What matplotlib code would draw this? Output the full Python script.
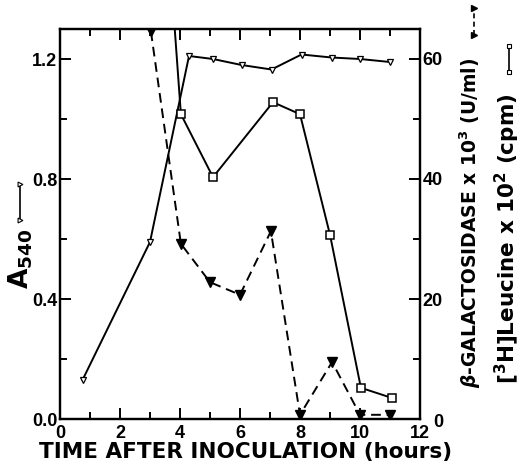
import matplotlib
matplotlib.use("Agg")
import matplotlib.pyplot as plt
from matplotlib.lines import Line2D
from matplotlib.ticker import MultipleLocator

plt.rcParams['font.family'] = ['Liberation Sans', 'DejaVu Sans']
plt.rcParams['font.weight'] = 'bold'
plt.rcParams['mathtext.fontset'] = 'dejavusans'

# A540 (open triangles, left axis)
a540_t = [0.75, 3.0, 4.3, 5.1, 6.05, 7.05, 8.05, 9.05, 10.0, 11.0]
a540_v = [0.13, 0.59, 1.21, 1.20, 1.18, 1.165, 1.215, 1.205, 1.20, 1.19]

# [3H]Leucine x 10^2 cpm (open squares, right axis)
leu_t = [3.0, 4.03, 5.1, 7.1, 8.0, 9.0, 10.03, 11.07]
leu_v = [122.0, 50.8, 40.3, 52.8, 50.8, 30.7, 5.2, 3.5]

# beta-galactosidase x 10^3 U/ml (filled triangles, dashed, right axis)
gal_t = [3.03, 4.03, 5.0, 6.0, 7.03, 8.0, 9.07, 10.0, 11.0]
gal_v = [64.6, 29.2, 22.8, 20.7, 31.3, 0.7, 9.5, 0.7, 0.7]

x_ticks = [0, 2, 4, 6, 8, 10, 12]
left_ticks = [0.0, 0.4, 0.8, 1.2]
right_ticks = [20, 40, 60]

W, H = 524, 463
fig = plt.figure(figsize=(W / 100, H / 100), dpi=100)
ax = fig.add_axes([60 / W, 1 - 419 / H, 360 / W, 390 / H])
ax2 = ax.twinx()

ax.set_xlim(0, 12)
ax.set_ylim(0, 1.3)
ax2.set_ylim(0, 65)

k = 'black'
ax.plot(a540_t, a540_v, '-', color=k, lw=1.4, marker='v', ms=5,
        mfc='white', mec=k, mew=0.9)
ax2.plot(leu_t, leu_v, '-', color=k, lw=1.4, marker='s', ms=6,
         mfc='white', mec=k, mew=1.1)
ax2.plot(gal_t, gal_v, '--', color=k, lw=1.4, marker='v', ms=6.5,
         mfc=k, mec=k, dashes=(5, 3))

for sp in ax.spines.values():
    sp.set_linewidth(1.6)
for sp in ax2.spines.values():
    sp.set_linewidth(1.6)

ax.xaxis.set_minor_locator(MultipleLocator(1))
ax.yaxis.set_minor_locator(MultipleLocator(0.2))
ax.tick_params(axis='both', which='both', direction='in', top=True,
               width=1.4, labelsize=13)
ax.tick_params(which='major', length=8)
ax.tick_params(which='minor', length=5)
ax.set_xticks(x_ticks)
ax.set_xticklabels([str(v) for v in x_ticks])
ax.set_yticks(left_ticks)
ax.set_yticklabels(['%.1f' % v for v in left_ticks])
ax.tick_params(axis='x', pad=4)
ax.tick_params(axis='y', pad=2)

ax2.set_yticks(right_ticks)
ax2.set_yticklabels([str(v) for v in right_ticks])
ax2.yaxis.set_minor_locator(MultipleLocator(10))
ax2.tick_params(axis='y', which='both', direction='in', width=1.4,
                labelsize=13, pad=2)
ax2.tick_params(which='major', length=8)
ax2.tick_params(which='minor', length=5)
ax2.text(12.43, -0.6, '0', fontsize=13, fontweight='bold', ha='left',
         va='center', transform=ax2.transData, clip_on=False)

lab = dict(family=['DejaVu Sans'], fontweight='bold')
fig.text(246 / W, 1 - 452 / H, 'TIME AFTER INOCULATION (hours)',
         fontsize=15.5, ha='center', va='center', **lab)

# left label
fig.text(21 / W, 1 - 289 / H, 'A$_{\\mathbf{540}}$', fontsize=19,
         rotation=90, ha='left', va='center', rotation_mode='anchor', **lab)
fig.add_artist(Line2D([20 / W, 20 / W], [1 - 220 / H, 1 - 184 / H],
                      transform=fig.transFigure, color=k, lw=1.2))
fig.add_artist(Line2D([20 / W, 20 / W], [1 - 220 / H, 1 - 184 / H],
                      transform=fig.transFigure, color=k, lw=0, marker='>',
                      ms=3.5, mfc='white', mec=k, mew=0.8))

# right labels
fig.text(470 / W, 1 - 388 / H,
         '$\\mathit{\\beta}$-GALACTOSIDASE x 10$^{\\mathbf{3}}$ (U/ml)',
         fontsize=13.5, rotation=90, ha='left', va='center',
         rotation_mode='anchor', **lab)
fig.add_artist(Line2D([474 / W, 474 / W], [1 - 35 / H, 1 - 8 / H],
                      transform=fig.transFigure, color=k, lw=1.2,
                      dashes=(3, 2), marker='>', ms=4, mfc=k, mec=k))
fig.text(507 / W, 1 - 384 / H,
         '[$^{\\mathbf{3}}$H]Leucine x 10$^{\\mathbf{2}}$ (cpm)',
         fontsize=15.5, rotation=90, ha='left', va='center',
         rotation_mode='anchor', **lab)
fig.add_artist(Line2D([509 / W, 509 / W], [1 - 72 / H, 1 - 46 / H],
                      transform=fig.transFigure, color=k, lw=1.2,
                      marker='s', ms=3.5, mfc='white', mec=k, mew=0.8))

fig.savefig('out.png', dpi=100)
